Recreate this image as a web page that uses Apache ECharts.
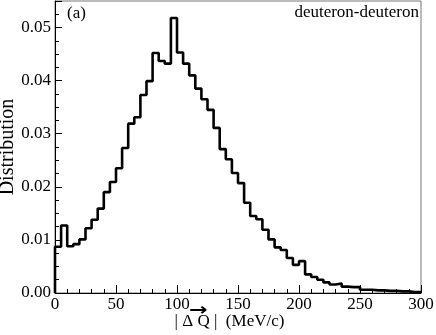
<!DOCTYPE html>
<html>
<head>
<meta charset="utf-8">
<script src="https://cdn.jsdelivr.net/npm/echarts@6/dist/echarts.min.js"></script>
<style>
  html, body { margin: 0; padding: 0; background: #fff; }
  #main { width: 436px; height: 335px; }
</style>
</head>
<body>
<div id="main"></div>
<script>
// histogram of |dQ| for deuteron-deuteron, 5 MeV/c bins from 0 to 300
const binStart = 0
const binWidth = 5
const binValues = [
  0.0087, 0.0127, 0.0088, 0.0092, 0.0101, 0.0122, 0.0138, 0.0159, 0.0190, 0.0209,
  0.0235, 0.0273, 0.0319, 0.0331, 0.0373, 0.0399, 0.0452, 0.0437, 0.0432, 0.0518,
  0.0453, 0.0432, 0.0410, 0.0385, 0.0365, 0.0345, 0.0311, 0.0271, 0.0252, 0.0226,
  0.0207, 0.0170, 0.0145, 0.0139, 0.0119, 0.0101, 0.0086, 0.0081, 0.0066, 0.0053,
  0.0060, 0.0035, 0.0030, 0.0025, 0.0020, 0.0016, 0.0018, 0.0012, 0.0011, 0.0011,
  0.0006, 0.0006, 0.0005, 0.0005, 0.0004, 0.0004, 0.0003, 0.0003, 0.0002, 0.0002
]
const xTicks = [0, 50, 100, 150, 200, 250, 300]
const yTicks = [0.00, 0.01, 0.02, 0.03, 0.04, 0.05]
const panelLabel = '(a)'
const systemLabel = 'deuteron-deuteron'

const font = 'Liberation Serif'

// step points: start at (0, 0), then each bin's right edge with its value
const stepData = [[binStart, 0]]
binValues.forEach((v, i) => {
  stepData.push([binStart + (i + 1) * binWidth, v])
})

const myChart = echarts.init(document.getElementById('main'), null, { renderer: 'canvas' })
const option = {
  animation: false,
  backgroundColor: '#fff',
  grid: {
    left: 55, right: 15, top: 1, bottom: 42,
    containLabel: false,
    outerBoundsMode: 'none',
    show: true, borderColor: '#777', borderWidth: 1
  },
  xAxis: {
    type: 'value',
    min: xTicks[0],
    max: xTicks[xTicks.length - 1],
    interval: 50,
    name: '| Δ Q |  (MeV/c)',
    nameLocation: 'middle',
    nameGap: 20,
    nameMoveOverlap: false,
    nameTextStyle: { fontFamily: font, fontSize: 17, color: '#000', padding: [0, 17, 0, 0] },
    axisLine: { lineStyle: { color: '#000', width: 1 } },
    axisTick: { inside: true, length: 8, lineStyle: { color: '#000' } },
    minorTick: { show: true, splitNumber: 5, length: 4, lineStyle: { color: '#000' } },
    axisLabel: { fontFamily: font, fontSize: 17, color: '#000', margin: 3 },
    splitLine: { show: false }
  },
  yAxis: {
    type: 'value',
    min: yTicks[0],
    max: 0.055,
    interval: 0.01,
    name: 'Distribution',
    nameLocation: 'middle',
    nameGap: 37,
    nameMoveOverlap: false,
    nameTextStyle: { fontFamily: font, fontSize: 20, color: '#000' },
    axisLine: { show: true, lineStyle: { color: '#000', width: 1 } },
    axisTick: { inside: true, length: 7, lineStyle: { color: '#000' } },
    minorTick: { show: true, splitNumber: 4, length: 4, lineStyle: { color: '#000' } },
    axisLabel: {
      fontFamily: font, fontSize: 17, color: '#000', margin: 4,
      showMaxLabel: false,
      formatter: (v) => v.toFixed(2)
    },
    splitLine: { show: false }
  },
  series: [
    {
      type: 'line',
      step: 'start',
      data: stepData,
      symbol: 'none',
      lineStyle: { color: '#000', width: 2.6 },
      clip: true
    }
  ],
  graphic: [
    {
      type: 'text', left: 67, top: 5,
      style: { text: panelLabel, font: '17px "Liberation Serif"', fill: '#000' }
    },
    {
      type: 'text', right: 17, top: 4,
      style: { text: systemLabel, font: '17px "Liberation Serif"', fill: '#000' }
    },
    {
      type: 'text', x: 189, y: 302, scaleX: 1.3,
      style: { text: '→', font: 'bold 17px "DejaVu Sans"', fill: '#000' }
    }
  ]
}
option && myChart.setOption(option)
</script>
</body>
</html>
